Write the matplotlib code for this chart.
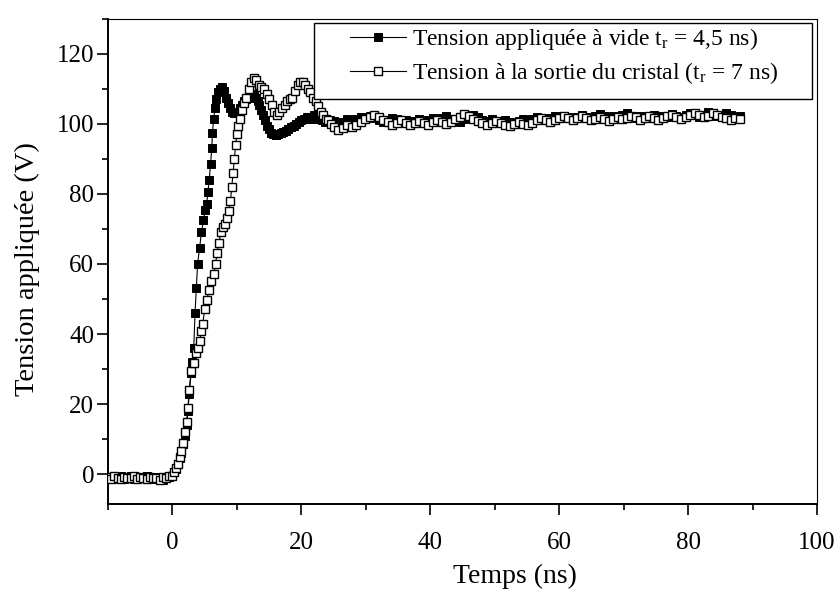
import numpy as np
import matplotlib
matplotlib.use("Agg")
import matplotlib.pyplot as plt
from matplotlib.patches import Rectangle
from matplotlib.ticker import MultipleLocator

plt.rcParams['font.family'] = ['Liberation Serif', 'DejaVu Serif']
plt.rcParams['mathtext.fontset'] = 'custom'
plt.rcParams['mathtext.rm'] = 'Liberation Serif'
plt.rcParams['mathtext.it'] = 'Liberation Serif:italic'

# ---------------- data ----------------
# pre-trigger baseline, t = -10 .. 0 ns
solid_pre = [-1.2, -0.8, -1.5, -1.0, -0.6, -1.3, -1.1, -0.7, -1.4, -1.0, -0.9,
             -1.2, -0.5, -1.1, -1.3, -0.8, -1.0, -1.7, -1.2, -0.9, -0.7]
open_pre = [-0.9, -1.3, -0.7, -1.1, -1.4, -0.8, -1.0, -1.2, -0.6, -1.3, -0.9,
            -1.1, -1.5, -0.8, -1.2, -1.0, -1.6, -0.9, -1.1, -0.6, -0.5]

# transient part
solid_t = [0.3, 0.6, 0.9, 1.2, 1.4, 1.7, 2.0, 2.2, 2.4, 2.6,
           2.9, 3.1, 3.3, 3.5, 3.7, 3.9, 4.2, 4.5, 4.8, 5.1,
           5.3, 5.5, 5.7, 5.9, 6.1, 6.2, 6.4, 6.6, 6.8, 7.1,
           7.4, 7.7, 8.0, 8.3, 8.6, 8.9, 9.2, 9.5, 9.9, 10.2,
           10.5, 10.8, 11.1, 11.4, 11.7, 12.0, 12.3, 12.6, 12.9, 13.2,
           13.5, 13.8, 14.1, 14.4, 14.7, 15.0, 15.3, 15.6, 16.0, 16.4,
           16.8, 17.2, 17.6, 18.0, 18.4, 18.8, 19.2, 19.6, 20.0, 20.4,
           20.8, 21.2, 21.6, 22.0, 22.4, 22.8, 23.2, 23.6, 24.0, 24.4]
solid_v = [0.5, 1.5, 2.8, 4.5, 6.0, 8.5, 11.0, 14.0, 18.0, 23.0,
           29.0, 32.0, 36.0, 46.0, 53.0, 60.0, 64.5, 69.0, 72.5, 75.5,
           77.0, 80.5, 84.0, 88.5, 93.0, 97.5, 101.5, 104.5, 107.0, 109.0,
           110.0, 110.5, 109.5, 107.5, 106.0, 104.5, 103.5, 103.0, 103.0, 103.5,
           104.5, 105.5, 106.5, 107.0, 107.5, 108.0, 108.5, 108.0, 107.5, 106.5,
           105.5, 104.0, 102.5, 101.0, 99.5, 98.5, 97.5, 97.0, 96.8, 97.2,
           97.5, 97.8, 98.0, 98.5, 99.0, 99.5, 100.0, 100.5, 101.0, 101.5,
           102.0, 102.0, 101.5, 102.5, 102.0, 101.5, 101.0, 100.5, 100.5, 101.0]

open_t = [0.3, 0.6, 0.9, 1.2, 1.4, 1.7, 2.0, 2.2, 2.4, 2.6,
          2.9, 3.3, 3.6, 3.9, 4.2, 4.5, 4.7, 5.0, 5.3, 5.7,
          6.0, 6.4, 6.7, 6.9, 7.2, 7.5, 7.8, 8.1, 8.4, 8.7,
          9.0, 9.2, 9.4, 9.6, 9.8, 10.0, 10.2, 10.5, 10.8, 11.1,
          11.4, 11.8, 12.2, 12.6, 13.0, 13.4, 13.8, 14.2, 14.6, 15.0,
          15.4, 15.8, 16.2, 16.6, 17.0, 17.4, 17.8, 18.2, 18.6, 19.0,
          19.4, 19.8, 20.2, 20.6, 21.0, 21.4, 21.8, 22.2, 22.6, 23.0,
          23.4, 23.8, 24.2, 24.6]
open_v = [0.6, 1.8, 3.0, 4.8, 6.5, 9.0, 12.0, 15.0, 19.0, 24.0,
          29.5, 31.7, 34.5, 36.0, 38.0, 41.0, 43.0, 47.0, 49.7, 52.6,
          55.0, 57.0, 60.0, 63.0, 66.0, 69.0, 70.5, 71.5, 73.0, 75.0,
          78.0, 82.0, 86.0, 90.0, 94.0, 97.0, 99.5, 101.5, 104.0, 106.0,
          107.5, 110.0, 112.0, 113.0, 112.5, 111.0, 110.5, 110.0, 108.5, 107.0,
          105.5, 103.5, 102.5, 103.5, 104.5, 105.5, 106.5, 107.0, 107.5, 109.5,
          111.0, 112.0, 112.0, 111.0, 110.0, 109.0, 107.5, 106.5, 105.0, 103.5,
          102.5, 101.5, 101.0, 100.0]

# plateau, t = 25 .. 88 ns (regular sampling)
solid_plateau = [100.8, 100.2, 100.6, 101.3, 100.9, 101.5, 102.0, 101.4, 102.2, 101.7, 101.0,
                 100.6, 101.2, 101.8, 101.3, 100.7, 101.1, 100.5, 100.9, 101.4, 100.8, 101.2,
                 101.6, 101.0, 101.8, 102.3, 101.5, 101.1, 100.7, 101.3, 102.0, 102.6, 101.9,
                 101.2, 100.8, 101.4, 100.9, 100.4, 101.0, 100.6, 100.2, 100.8, 101.3, 100.9,
                 101.5, 102.1, 101.6, 101.0, 101.7, 102.3, 101.8, 102.4, 101.9, 101.3, 102.0,
                 102.6, 102.1, 101.5, 102.2, 102.8, 102.3, 101.7, 102.4, 101.9, 102.5, 103.0,
                 102.4, 101.8, 102.3, 101.6, 102.0, 102.7, 102.2, 101.6, 102.1, 102.8, 102.3,
                 101.9, 102.5, 103.1, 102.6, 102.1, 102.7, 103.3, 102.8, 102.2, 102.6, 103.2,
                 102.5, 101.9, 102.3]
open_plateau = [99.0, 98.3, 98.8, 99.6, 99.0, 99.8, 100.6, 101.3, 102.0, 102.5, 102.0,
                101.2, 100.5, 99.8, 100.3, 101.0, 100.4, 99.7, 100.2, 100.9, 100.3, 99.8,
                100.5, 101.1, 100.6, 100.0, 100.7, 101.4, 102.0, 102.8, 102.2, 101.5, 100.8,
                100.2, 99.6, 100.3, 100.9, 100.4, 99.8, 99.4, 100.0, 100.6, 100.1, 99.7,
                100.4, 101.0, 101.6, 101.1, 100.5, 101.2, 101.8, 102.3, 101.7, 101.1, 101.6,
                102.2, 101.6, 101.0, 101.5, 102.1, 101.4, 100.9, 101.5, 102.0, 101.3, 101.8,
                102.4, 101.9, 101.2, 101.7, 102.3, 101.8, 101.1, 101.6, 102.2, 102.7, 102.1,
                101.5, 102.0, 102.6, 103.1, 102.5, 101.9, 102.4, 103.0, 102.6, 102.0, 101.6,
                101.2, 101.8, 101.4]

labels = ["Tension appliquée à vide t$_\\mathrm{r}$ = 4,5 ns)",
          "Tension à la sortie du cristal (t$_\\mathrm{r}$ = 7 ns)"]
xlabel = "Temps (ns)"
ylabel = "Tension appliquée (V)"
xticks = [0, 20, 40, 60, 80, 100]
yticks = [0, 20, 40, 60, 80, 100, 120]

# ---------------- assemble series ----------------
def series(pre, t_mid, v_mid, plateau):
    t = np.concatenate([np.linspace(-10, 0, len(pre)), t_mid,
                        np.linspace(25, 88, len(plateau))])
    v = np.concatenate([pre, v_mid, plateau])
    return t, v

ts, vs = series(solid_pre, solid_t, solid_v, solid_plateau)
to, vo = series(open_pre, open_t, open_v, open_plateau)

# ---------------- figure ----------------
fig = plt.figure(figsize=(8.4, 5.91), dpi=100)
ax = fig.add_axes([0.1286, 0.1476, 0.9726 - 0.1286, 0.9679 - 0.1476])

ax.plot(ts, vs, color='black', lw=0.8, marker='s', ms=5.6,
        mfc='black', mec='black', mew=0.7, label=labels[0], zorder=3)
ax.plot(to, vo, color='black', lw=0.8, marker='s', ms=5.6,
        mfc='white', mec='black', mew=1.0, label=labels[1], zorder=4)

ax.set_xlim(-10, 100)
ax.set_ylim(-8.5, 130)
ax.set_xticks(xticks)
ax.set_yticks(yticks)
ax.xaxis.set_minor_locator(MultipleLocator(10))
ax.yaxis.set_minor_locator(MultipleLocator(10))
ax.tick_params(axis='both', which='major', direction='out', length=8,
               width=1.2, labelsize=18, color='black')
ax.tick_params(axis='both', which='minor', direction='out', length=4.5,
               width=1.2, color='black')
ax.tick_params(axis='x', which='major', pad=12)
ax.tick_params(axis='y', which='major', pad=2)
ax.tick_params(top=False, right=False, which='both')

for side in ['left', 'bottom']:
    ax.spines[side].set_linewidth(1.4)
for side in ['top', 'right']:
    ax.spines[side].set_linewidth(0.8)

ax.set_xlabel(xlabel, fontsize=20)
ax.set_ylabel(ylabel, fontsize=20.5)
ax.xaxis.set_label_coords(0.574, -0.124)
ax.yaxis.set_label_coords(-0.096, 0.485)

# legend box (white frame drawn over the data)
box = Rectangle((0.2906, 0.835), 0.993 - 0.2906, 0.9917 - 0.835,
                transform=ax.transAxes, facecolor='white', edgecolor='black',
                lw=1.0, zorder=5)
ax.add_patch(box)
leg = ax.legend(loc='upper left', bbox_to_anchor=(0.341, 0.985),
                frameon=False, fontsize=17, borderpad=0, borderaxespad=0,
                handlelength=2.4, handletextpad=0.25, labelspacing=0.35,
                numpoints=1)
leg.set_zorder(6)

fig.savefig("out.png", dpi=100)
